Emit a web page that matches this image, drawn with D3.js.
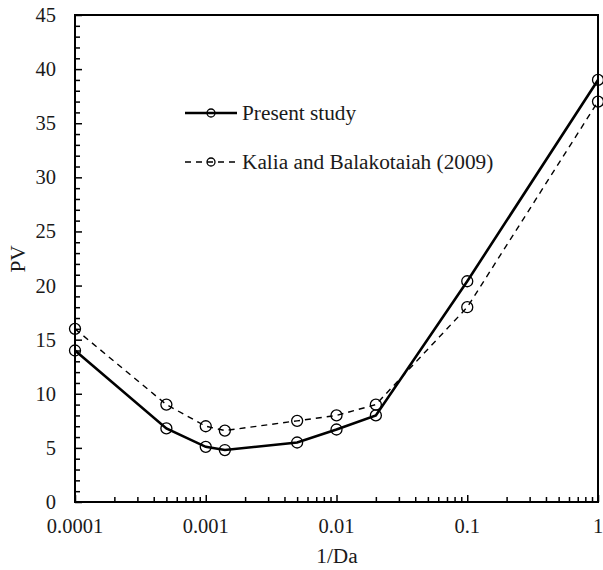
<!DOCTYPE html>
<html><head><meta charset="utf-8">
<script src="https://cdn.jsdelivr.net/npm/d3@7"></script>
<style>body{margin:0;background:#fff}text{font-family:"Liberation Serif","Times New Roman",serif;fill:#1a1a1a}</style>
</head><body><svg id="c" width="603" height="570"></svg>
<script>
const xValues = [0.0001, 0.0005, 0.001, 0.0014, 0.005, 0.01, 0.02, 0.1, 1];
const presentStudy = [14, 6.8, 5.1, 4.8, 5.5, 6.7, 8, 20.4, 39];
const kaliaBalakotaiah = [16, 9, 7, 6.6, 7.5, 8, 9, 18, 37];
const xTicks = [0.0001, 0.001, 0.01, 0.1, 1];
const xTickLabels = ["0.0001", "0.001", "0.01", "0.1", "1"];
const yTicks = [0, 5, 10, 15, 20, 25, 30, 35, 40, 45];
const seriesNames = ["Present study", "Kalia and Balakotaiah (2009)"];

const svg = d3.select("#c");
const L = 75, R = 598, T = 15, B = 502;
const x = d3.scaleLog().domain([0.0001, 1]).range([L, R]);
const y = d3.scaleLinear().domain([0, 45]).range([B, T]);
const FS = 20.5, FL = 21.3;

// minor ticks
const xMinor = [];
for (let e = -4; e < 0; e++) for (let m = 2; m <= 9; m++) xMinor.push(m * Math.pow(10, e));
const yMinor = d3.range(0, 46).filter(v => v % 5 !== 0);

const gx = svg.append("g").attr("transform", `translate(0,${B})`);
gx.call(d3.axisTop(x).tickValues(xMinor).tickSize(5).tickFormat(""));
gx.append("g").call(d3.axisTop(x).tickValues(xTicks).tickSize(7).tickFormat(""));
gx.selectAll(".domain").remove();
gx.selectAll("line").attr("stroke", "#000").attr("stroke-width", 1.5);

const gy = svg.append("g").attr("transform", `translate(${L},0)`);
gy.call(d3.axisRight(y).tickValues(yMinor).tickSize(5).tickFormat(""));
gy.append("g").call(d3.axisRight(y).tickValues(yTicks).tickSize(7).tickFormat(""));
gy.selectAll(".domain").remove();
gy.selectAll("line").attr("stroke", "#000").attr("stroke-width", 1.5);

// tick labels
svg.append("g").selectAll("text").data(xTicks).join("text")
  .attr("x", d => x(d)).attr("y", 533).attr("text-anchor", "middle")
  .attr("font-size", FS).text((d, i) => xTickLabels[i]);
svg.append("g").selectAll("text").data(yTicks).join("text")
  .attr("x", 56).attr("y", d => y(d)).attr("dy", "0.34em").attr("text-anchor", "end")
  .attr("font-size", FS).text(d => d);

// frame
svg.append("rect").attr("x", L).attr("y", T).attr("width", R - L).attr("height", B - T)
  .attr("fill", "none").attr("stroke", "#000").attr("stroke-width", 2);

// axis titles
svg.append("text").attr("x", 337).attr("y", 563).attr("text-anchor", "middle").attr("font-size", FL).text("1/Da");
svg.append("text").attr("transform", "translate(25,259) rotate(-90)").attr("text-anchor", "middle").attr("font-size", FL).text("PV");

const line = d3.line().x((d, i) => x(xValues[i])).y(d => y(d));
const styles = [
  {data: presentStudy, width: 2.6, dash: null},
  {data: kaliaBalakotaiah, width: 1.4, dash: "6,5"}
];
styles.forEach(s => {
  svg.append("path").datum(s.data).attr("d", line).attr("fill", "none")
    .attr("stroke", "#000").attr("stroke-width", s.width).attr("stroke-dasharray", s.dash);
  svg.append("g").selectAll("circle").data(s.data).join("circle")
    .attr("cx", (d, i) => x(xValues[i])).attr("cy", d => y(d)).attr("r", 5.5)
    .attr("fill", "none").attr("stroke", "#000").attr("stroke-width", 1.3);
});

// legend
const legY = [113, 162];
styles.forEach((s, i) => {
  svg.append("line").attr("x1", 185).attr("x2", 237).attr("y1", legY[i]).attr("y2", legY[i])
    .attr("stroke", "#000").attr("stroke-width", s.width).attr("stroke-dasharray", s.dash);
  svg.append("circle").attr("cx", 211).attr("cy", legY[i]).attr("r", 4)
    .attr("fill", "none").attr("stroke", "#000").attr("stroke-width", 1.3);
  svg.append("text").attr("x", 242).attr("y", legY[i]).attr("dy", "0.34em")
    .attr("font-size", FL).text(seriesNames[i]);
});
</script></body></html>
